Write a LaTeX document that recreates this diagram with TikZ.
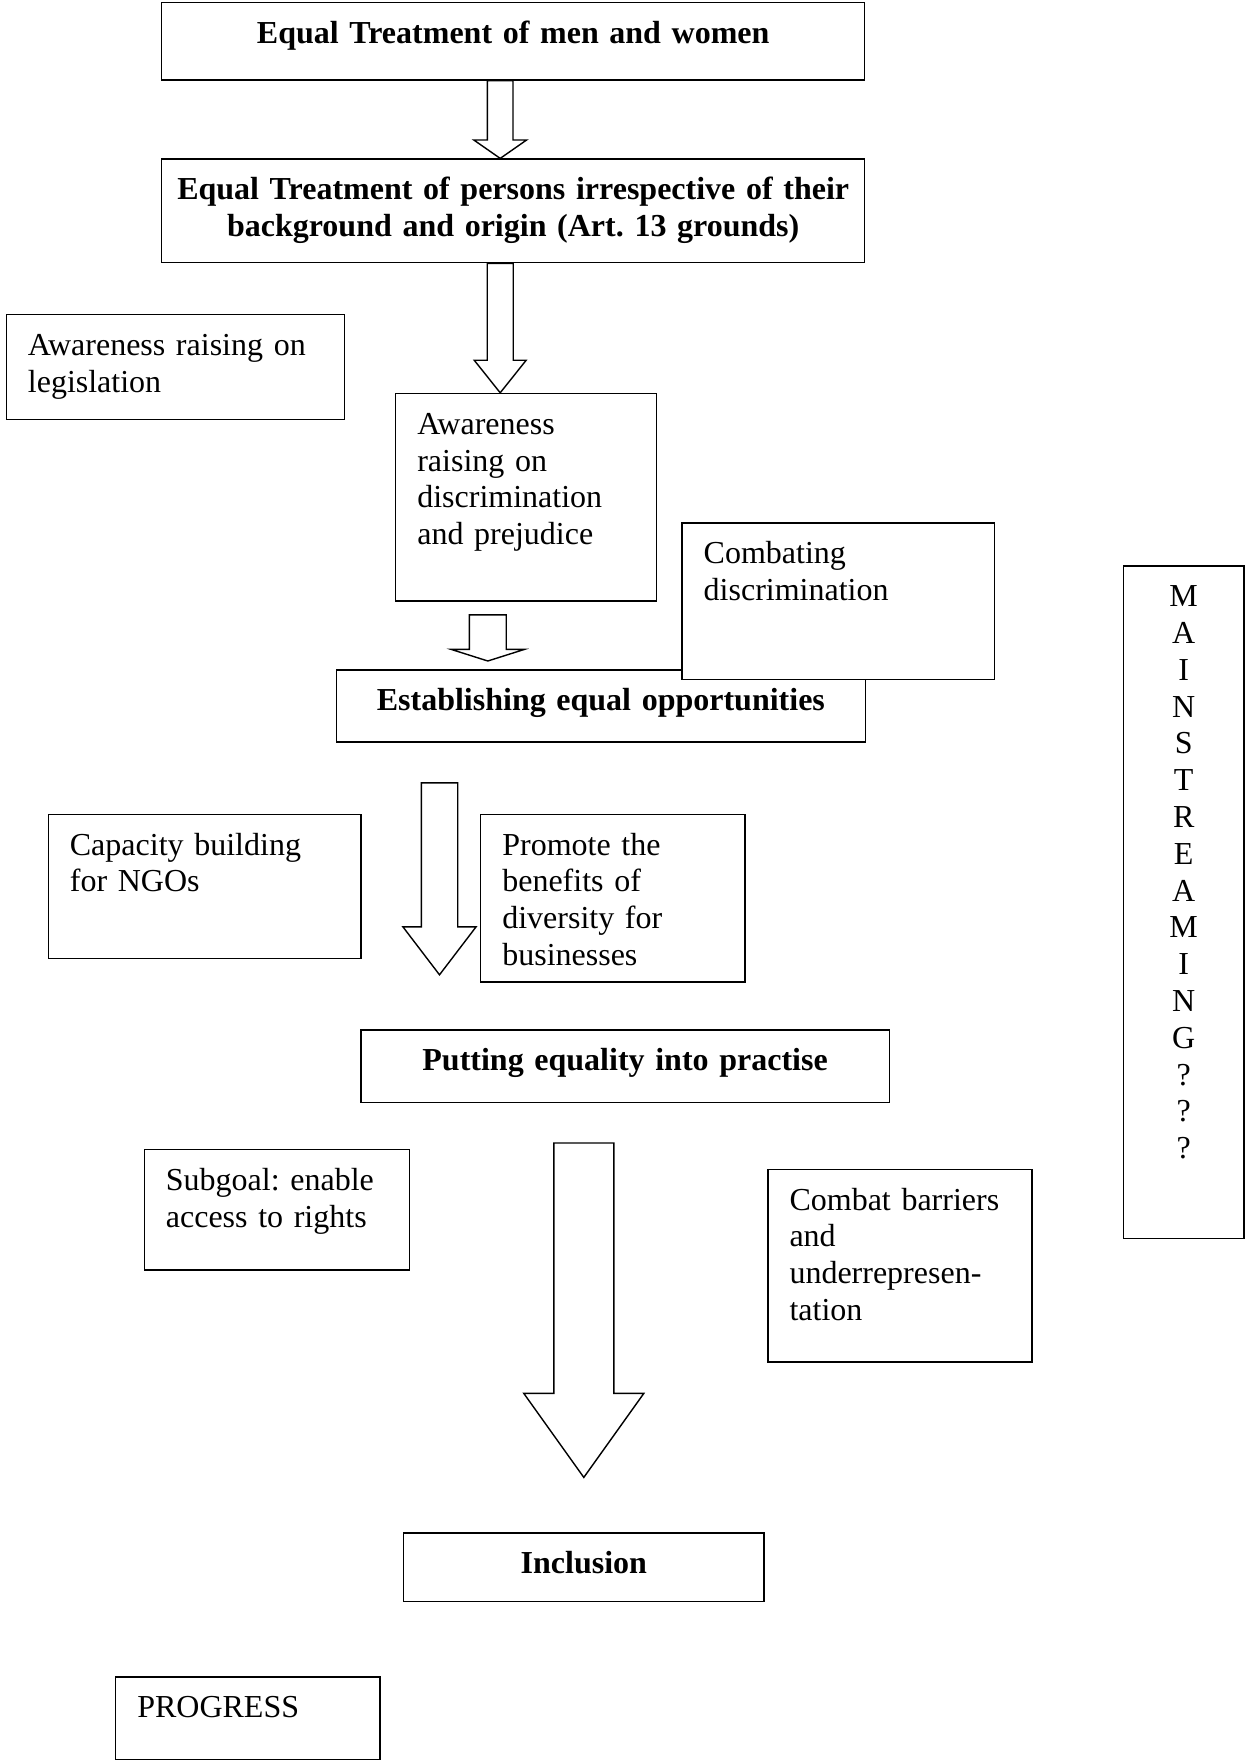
\documentclass[tikz,border=0pt]{standalone}
\usepackage{fontspec}
\setmainfont[WordSpace=0.75]{Liberation Serif}
\usepackage{tikz}
\usetikzlibrary{calc}
\frenchspacing

% grosse flèche creuse : départ, pointe, demi-largeur du corps, demi-largeur de la tête, longueur de la tête
\newcommand{\fatarrow}[5]{%
  \draw [fat] ($(#1)+(-#3,0)$) -- ($(#2)+(-#3,-#5)$) -- ($(#2)+(-#4,-#5)$) -- (#2)
    -- ($(#2)+(#4,-#5)$) -- ($(#2)+(#3,-#5)$) -- ($(#1)+(#3,0)$) -- cycle;}

\begin{document}
\begin{tikzpicture}[
        x=1pt, y=-1pt,
        % Style des boîtes de texte
        note/.style={
            rectangle,
            draw=black,
            line width=0.7pt,
            fill=white,
            anchor=north west,
            align=left,
            inner xsep=10.8pt,
            inner ysep=0pt,
            text height=20.4pt,
            font=\fontsize{16}{18.4}\selectfont
        },
        % Style des étapes (gras, centré)
        stage/.style={
            note,
            align=center,
            inner xsep=5pt,
            font=\bfseries\fontsize{16}{18.4}\selectfont
        },
        % Style des flèches
        fat/.style={
            draw=black,
            line width=0.7pt,
            fill=white,
            line join=miter
        }
    ]
    \useasboundingbox (0,0) rectangle (622,880);

    % --- ÉTAPE 1 : HOMMES ET FEMMES ---
    \node [stage, text width=341.5pt, text depth=18.3pt] (treat) at (80.5,1) {Equal Treatment of men and women};

    % --- ÉTAPE 2 : ART. 13 ---
    \node [stage, text width=341.5pt, text depth=31.4pt] (origin) at (80.5,79.2) {Equal Treatment of persons irrespective of their\\background and origin (Art. 13 grounds)};

    \node [note, text width=147.4pt, text depth=32.1pt] (legis) at (2.8,156.9) {Awareness raising on\\legislation};
    \node [note, text width=108.9pt, text depth=83.4pt] (aware) at (197.5,196.4) {Awareness\\raising on\\discrimination\\and prejudice};

    % --- ÉTAPE 3 : ÉGALITÉ DES CHANCES ---
    \node [stage, text width=254.6pt, text depth=15.6pt] (estab) at (167.8,334.7) {Establishing equal opportunities};
    \node [note, text width=134.7pt, text depth=57.9pt] (combat) at (340.7,261.2) {Combating\\discrimination};

    \node [note, text width=134.7pt, text depth=51.6pt] (capac) at (23.8,406.8) {Capacity building\\for NGOs};
    \node [note, text width=110.5pt, text depth=63.4pt] (promo) at (240,406.8) {Promote the\\benefits of\\diversity for\\businesses};

    % --- ÉTAPE 4 : PRATIQUE ---
    \node [stage, text width=254.2pt, text depth=15.8pt] (practise) at (180.1,514.6) {Putting equality into practise};

    \node [note, text width=110.9pt, text depth=39.8pt] (subgoal) at (71.8,574.5) {Subgoal: enable\\access to rights};
    \node [note, text width=110.5pt, text depth=75.9pt] (barrier) at (383.6,584.3) {Combat barriers\\and\\underrepresen-\\tation};

    % --- ÉTAPE 5 : INCLUSION ---
    \node [stage, text width=170.1pt, text depth=13.7pt] (incl) at (201.5,766.2) {Inclusion};

    \node [note, text width=110.5pt, text depth=20.8pt] (progress) at (57.5,838.2) {PROGRESS};

    % --- MAINSTREAMING ---
    \node [note, align=center, inner xsep=5pt, text width=50.4pt, text depth=315.8pt] (mainstr) at (561.3,282.6) {M\\A\\I\\N\\S\\T\\R\\E\\A\\M\\I\\N\\G\\?\\?\\?};

    % --- FLÈCHES ---
    \coordinate (a1top) at ([xshift=-6.5pt]treat.south);
    \coordinate (a1tip) at ([xshift=-6.5pt]origin.north);
    \fatarrow{a1top}{a1tip}{6.4}{13.2}{9.2}

    \coordinate (a2top) at ([xshift=-6.5pt]origin.south);
    \coordinate (a2tip) at (a2top |- aware.north);
    \fatarrow{a2top}{a2tip}{6.5}{13}{16.3}

    \coordinate (a3top) at ([xshift=-19.2pt, yshift=-6.5pt]aware.south);
    \coordinate (a3tip) at ($(a3top |- estab.north)+(0,-4.2)$);
    \fatarrow{a3top}{a3tip}{9.2}{18.3}{5.8}

    \coordinate (a4top) at ([xshift=-80.7pt, yshift=-20pt]estab.south);
    \coordinate (a4tip) at ($(a4top)+(0,96)$);
    \fatarrow{a4top}{a4tip}{9.1}{18.3}{24}

    \coordinate (a5tip) at ([yshift=27.5pt]incl.north);
    \coordinate (a5top) at ($(a5tip |- practise.south)+(0,20)$);
    \fatarrow{a5top}{a5tip}{15}{30}{42}

\end{tikzpicture}
\end{document}
